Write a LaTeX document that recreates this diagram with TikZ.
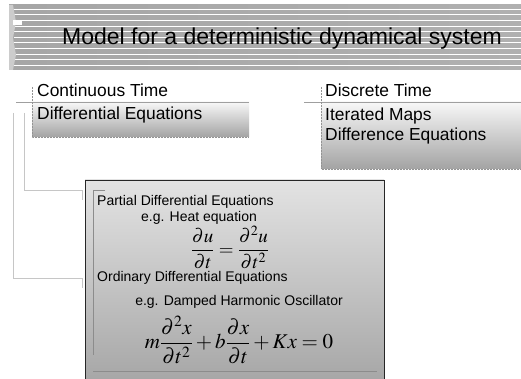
\documentclass[tikz,border=0pt]{standalone}
\usepackage{mathptmx}
\usepackage[no-math]{fontspec}
\setmainfont{Liberation Sans}
\usepackage{tikz}
\tikzset{
  headtxt/.style  = {font=\fontsize{23}{27}\selectfont,inner sep=0pt,anchor=base},
  cattxt/.style   = {font=\fontsize{17.4}{20.5}\selectfont,inner sep=0pt,anchor=base west},
  smalltxt/.style = {font=\fontsize{14}{17}\selectfont,inner sep=0pt},
  eqtxt/.style    = {inner sep=0pt},
  catbox/.style   = {top color=gray!6,bottom color=gray!72,draw=none,outer sep=0pt,
                     inner sep=0pt,anchor=north west},
  dotline/.style  = {gray!85,densely dotted,line width=0.5pt},
  catline/.style  = {gray!75,line width=0.9pt},
  link/.style     = {gray!45,line width=0.5pt},
  frameline/.style= {gray!90,line width=0.4pt}
}
\newcommand{\hstripes}{%
  \foreach \k in {0,...,10}
    \draw[white,line width=1.1pt] (14,9.3+5.6*\k) -- (521,9.3+5.6*\k);
}

\begin{document}
\begin{tikzpicture}[x=1pt,y=-1pt]
  \clip (0,0) rectangle (521,379);
  \fill[white] (0,0) rectangle (521,379);

  % title banner
  \shade[left color=gray!70,middle color=gray!45,right color=gray!62] (9,5) rectangle (521,70);
  \hstripes
  \fill[gray!40] (9,5) -- (13,5) -- (16,22) -- (13,38) -- (16,55) -- (13,70) -- (9,70) -- cycle;
  \fill[white] (13,20.5) rectangle (22,25);
  \node[headtxt] (title) at (282,45) {Model for a deterministic dynamical system};

  % continuous time
  \node[catbox,minimum width=217pt,minimum height=35pt] (debox) at (32,102) {};
  \draw[catline] (16,102) -- (debox.north east);
  \draw[dotline] (32,87) -- (debox.south west) -- (debox.south east);
  \node[cattxt] (ct) at (37,97) {Continuous Time};
  \node[cattxt] (de) at (37,119.5) {Differential Equations};

  % discrete time
  \node[catbox,minimum width=200pt,minimum height=67pt] (dtbox) at (321,102) {};
  \draw[catline] (304,102) -- (dtbox.north east);
  \draw[dotline] (321,87) -- (dtbox.south west) -- (dtbox.south east);
  \node[cattxt] (dt) at (325,97) {Discrete Time};
  \node[cattxt] (im) at (325,121) {Iterated Maps};
  \node[cattxt] (dq) at (325,141) {Difference Equations};

  % connectors
  \coordinate (pdetop) at (24,113);
  \coordinate (odetop) at (13,113);
  \coordinate (pdeend) at (82,190);
  \coordinate (odeend) at (82,278);
  \draw[link] (pdetop) |- (pdeend) -- ++(0,10);
  \draw[link] (odetop) |- (odeend) -- ++(0,10);

  % equation panel
  \node[draw=gray!30!black,line width=0.8pt,top color=gray!22,bottom color=gray!72,
        outer sep=0pt,inner sep=0pt,anchor=north west,
        minimum width=299pt,minimum height=212pt] (eqbox) at (85,180) {};
  \draw[frameline] (105,190) -- (93,190) -- (93,355);
  \draw[frameline] (93,371) -- (377,371);

  \node[smalltxt,anchor=base west] (pde) at (97,205) {Partial Differential Equations};
  \node[smalltxt,anchor=base] (heat) at (199,221) {e.g. Heat equation};
  \node[eqtxt] (heateq) at (230,247.5)
    {\fontsize{19}{23}\selectfont$\displaystyle\frac{\partial u}{\partial t}=\frac{\partial^2 u}{\partial t^2}$};
  \node[smalltxt,anchor=base west] (ode) at (97,281) {Ordinary Differential Equations};
  \node[smalltxt,anchor=base] (osc) at (239,305) {e.g. Damped Harmonic Oscillator};
  \node[eqtxt] (osceq) at (239,340)
    {\fontsize{21}{25}\selectfont$\displaystyle m\frac{\partial^2 x}{\partial t^2}+b\frac{\partial x}{\partial t}+Kx=0$};
\end{tikzpicture}
\end{document}
